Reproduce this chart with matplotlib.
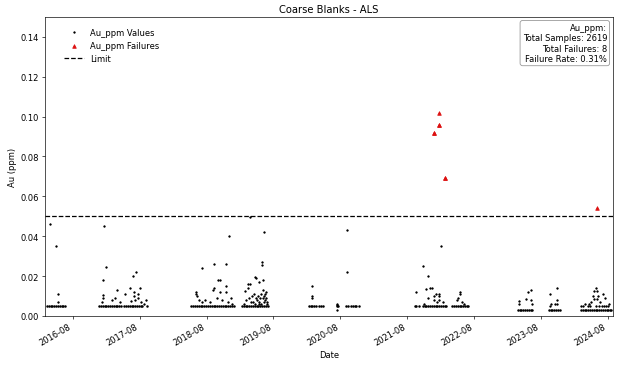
import numpy as np
import pandas as pd
import matplotlib
matplotlib.use("Agg")
import matplotlib.pyplot as plt
import matplotlib.dates as mdates

# baseline samples at detection limit (0.005 ppm)
base_dates = [
    '2016-03-12', '2016-03-22', '2016-04-01', '2016-04-11', '2016-04-21', '2016-05-01',
    '2016-05-11', '2016-05-21', '2016-05-31', '2016-06-10', '2016-06-20',
    '2016-12-22', '2017-01-01', '2017-01-11', '2017-01-21', '2017-01-31', '2017-02-10',
    '2017-02-20', '2017-03-02', '2017-03-12', '2017-03-22', '2017-04-01', '2017-04-11',
    '2017-04-21', '2017-05-08', '2017-05-18', '2017-05-28', '2017-06-07', '2017-06-17',
    '2017-06-27', '2017-07-07', '2017-07-17', '2017-07-27', '2017-08-06', '2017-08-16',
    '2017-09-10',
    '2018-05-10', '2018-05-20', '2018-05-30', '2018-06-09', '2018-06-19', '2018-06-29',
    '2018-07-09', '2018-07-19', '2018-07-29', '2018-08-08', '2018-08-18',
    '2018-08-29', '2018-09-08', '2018-09-18', '2018-09-28', '2018-10-08', '2018-10-18',
    '2018-10-28', '2018-11-07', '2018-11-17', '2018-11-27', '2018-12-07', '2018-12-17',
    '2018-12-27',
    '2019-02-10', '2019-02-20', '2019-03-02', '2019-03-12', '2019-03-22', '2019-04-01',
    '2019-04-11', '2019-04-21', '2019-05-01', '2019-05-11', '2019-05-21', '2019-05-31',
    '2019-06-10', '2019-06-20', '2019-06-30',
    '2020-02-10', '2020-02-20', '2020-03-01', '2020-03-11', '2020-03-21', '2020-04-08',
    '2020-04-18', '2020-04-28', '2020-07-12', '2020-07-20', '2020-09-03', '2020-09-13',
    '2020-09-28', '2020-10-08', '2020-10-18', '2020-10-28', '2020-11-08',
    '2021-09-10', '2021-09-20', '2021-10-05', '2021-10-25', '2021-11-04', '2021-11-14',
    '2021-11-24', '2021-12-04', '2021-12-14', '2021-12-24', '2022-01-03', '2022-01-13',
    '2022-01-23', '2022-02-02', '2022-02-12', '2022-02-22', '2022-02-28',
    '2022-04-04', '2022-04-14', '2022-04-24', '2022-05-04', '2022-05-14', '2022-05-24',
    '2022-06-03', '2022-06-13', '2022-06-23', '2022-06-28',
]
base_value = 0.005

# later batches report at 0.003 ppm
low_dates = [
    '2023-03-28', '2023-04-07', '2023-04-17', '2023-04-27', '2023-05-07', '2023-05-17',
    '2023-05-27', '2023-06-06', '2023-06-16',
    '2023-09-13', '2023-09-23', '2023-10-03', '2023-10-13', '2023-10-23', '2023-11-02',
    '2023-11-12',
    '2024-03-07', '2024-03-17', '2024-03-27', '2024-04-06', '2024-04-16', '2024-04-26',
    '2024-05-06', '2024-05-16', '2024-05-26', '2024-06-05', '2024-06-15', '2024-06-25',
    '2024-07-05', '2024-07-15', '2024-07-25', '2024-08-04', '2024-08-14', '2024-08-19',
]
low_value = 0.003

# samples above detection limit but under the limit
other_dates = [
    '2016-03-28', '2016-05-03', '2016-05-14', '2016-05-14',
    '2017-01-18', '2017-01-29', '2017-01-10', '2017-01-12', '2017-01-12', '2017-01-05',
    '2017-03-28', '2017-03-21', '2017-03-05', '2017-05-14', '2017-06-07', '2017-06-25',
    '2017-07-13', '2017-08-04', '2017-06-28', '2017-06-30', '2017-07-05', '2017-07-20',
    '2017-08-10', '2017-09-06', '2017-08-22', '2017-04-15', '2017-06-15', '2017-07-25',
    '2018-06-06', '2018-06-08', '2018-06-02', '2018-07-07', '2018-07-08', '2018-07-25',
    '2018-06-20', '2018-09-09', '2018-09-09', '2018-09-05', '2018-10-01', '2018-10-16',
    '2018-10-16', '2018-11-13', '2018-11-13', '2018-11-16', '2018-12-01', '2018-09-25',
    '2018-10-25', '2018-11-28', '2018-12-10', '2018-08-20', '2018-12-20',
    '2019-06-13', '2019-06-01', '2019-06-02', '2019-04-25', '2019-04-28', '2019-06-08',
    '2019-05-17', '2019-02-26', '2019-03-13', '2019-03-25', '2019-03-13', '2019-06-05',
    '2019-03-29', '2019-03-05', '2019-03-20', '2019-04-05', '2019-04-10', '2019-04-18',
    '2019-04-30', '2019-05-05', '2019-05-10', '2019-05-12', '2019-05-22', '2019-05-25',
    '2019-05-28', '2019-06-04', '2019-06-10', '2019-06-12', '2019-06-18', '2019-06-22',
    '2019-06-25', '2019-06-28', '2019-05-15', '2019-04-22', '2019-03-30', '2019-02-20',
    '2019-06-15', '2019-06-20',
    '2020-03-01', '2020-03-01', '2020-03-01', '2020-07-12', '2020-07-14', '2020-07-13',
    '2020-09-06', '2020-09-06',
    '2022-02-04', '2021-10-25', '2021-11-24', '2021-11-13', '2021-12-01', '2021-12-14',
    '2021-09-20', '2021-11-25', '2021-12-23', '2022-01-05', '2022-01-21', '2022-01-21',
    '2022-01-21', '2021-12-23', '2022-01-10', '2022-05-19', '2022-05-19', '2022-05-03',
    '2022-04-28', '2022-06-10', '2022-05-25', '2021-10-30', '2022-02-15',
    '2023-06-09', '2023-05-22', '2023-04-06', '2023-04-06', '2023-05-13', '2023-06-09',
    '2023-06-12', '2023-09-22', '2023-10-28', '2023-10-28', '2023-10-28', '2023-10-15',
    '2023-09-25', '2023-09-20',
    '2024-05-28', '2024-05-20', '2024-06-05', '2024-05-10', '2024-05-15', '2024-06-01',
    '2024-07-03', '2024-07-15', '2024-04-01', '2024-04-20', '2024-08-10', '2024-06-20',
    '2024-06-10', '2024-05-01',
    '2024-03-10', '2024-03-20', '2024-04-15', '2024-04-25', '2024-05-30', '2024-06-12',
    '2024-07-01', '2024-07-10', '2024-07-20', '2024-08-01',
]
other_values = [
    0.046, 0.035, 0.011, 0.007,
    0.045, 0.0245, 0.018, 0.0105, 0.009, 0.007,
    0.013, 0.009, 0.008, 0.011, 0.014, 0.020,
    0.022, 0.014, 0.010, 0.012, 0.008, 0.009,
    0.007, 0.008, 0.006, 0.007, 0.0075, 0.011,
    0.012, 0.010, 0.011, 0.024, 0.007, 0.008,
    0.008, 0.026, 0.014, 0.013, 0.018, 0.018,
    0.012, 0.026, 0.015, 0.012, 0.040, 0.009,
    0.008, 0.007, 0.009, 0.007, 0.006,
    0.042, 0.027, 0.0255, 0.0196, 0.019, 0.018,
    0.017, 0.0125, 0.016, 0.016, 0.014, 0.0128,
    0.0498, 0.008, 0.009, 0.010, 0.007, 0.011,
    0.009, 0.008, 0.010, 0.007, 0.009, 0.011,
    0.006, 0.009, 0.010, 0.007, 0.008, 0.009,
    0.006, 0.007, 0.006, 0.006, 0.007, 0.006,
    0.011, 0.012,
    0.015, 0.010, 0.009, 0.006, 0.0055, 0.003,
    0.043, 0.022,
    0.035, 0.025, 0.020, 0.0135, 0.014, 0.014,
    0.012, 0.009, 0.010, 0.011, 0.011, 0.010,
    0.008, 0.008, 0.007, 0.012, 0.011, 0.009,
    0.008, 0.006, 0.007, 0.006, 0.007,
    0.013, 0.012, 0.0077, 0.006, 0.0085, 0.008,
    0.006, 0.011, 0.014, 0.008, 0.006, 0.006,
    0.006, 0.005,
    0.014, 0.0125, 0.0125, 0.010, 0.0085, 0.0085,
    0.011, 0.009, 0.006, 0.006, 0.006, 0.007,
    0.010, 0.007,
    0.005, 0.005, 0.005, 0.005, 0.005, 0.005,
    0.005, 0.005, 0.005, 0.005,
]

fail_dates = ['2021-12-28', '2021-12-28', '2022-01-21', '2022-01-21', '2022-01-21',
              '2022-02-22', '2022-02-22', '2024-06-04']
fail_values = [0.092, 0.092, 0.096, 0.096, 0.102, 0.069, 0.069, 0.054]

limit = 0.05
total_samples = 2619
total_failures = 8
failure_rate = 0.31

floor_dates = pd.to_datetime(base_dates + low_dates)
floor_values = [base_value] * len(base_dates) + [low_value] * len(low_dates)

fig, ax = plt.subplots(figsize=(10.4, 6.1333), dpi=60)
# dense runs of detection-limit results
ax.scatter(floor_dates, floor_values, s=9, c='black', linewidths=0)
ax.scatter(pd.to_datetime(other_dates), other_values, s=3, c='black', label='Au_ppm Values')
ax.scatter(pd.to_datetime(fail_dates), fail_values, s=18, c='#dd1111', marker='^',
           label='Au_ppm Failures')
ax.axhline(limit, color='black', linestyle='--', linewidth=1.5, label='Limit')

ax.set_title('Coarse Blanks - ALS')
ax.set_xlabel('Date')
ax.set_ylabel('Au (ppm)')
ax.set_ylim(0, 0.15)
ax.set_xlim(pd.Timestamp('2016-03-01'), pd.Timestamp('2024-08-28'))
ax.xaxis.set_major_locator(mdates.MonthLocator(bymonth=8))
ax.xaxis.set_major_formatter(mdates.DateFormatter('%Y-%m'))
for lab in ax.get_xticklabels():
    lab.set_rotation(30)
    lab.set_ha('right')

ax.legend(loc='upper left', bbox_to_anchor=(0.02, 0.99), frameon=False, handlelength=2.4)
txt = (f'Au_ppm:\nTotal Samples: {total_samples}\nTotal Failures: {total_failures}\n'
       f'Failure Rate: {failure_rate:.2f}%')
ax.text(0.99, 0.98, txt, transform=ax.transAxes, ha='right', va='top', multialignment='right',
        bbox=dict(boxstyle='round', facecolor='white', edgecolor='gray', alpha=0.8))

fig.subplots_adjust(left=0.072, right=0.982, bottom=0.139, top=0.951)
fig.savefig('out.png', dpi=60)
